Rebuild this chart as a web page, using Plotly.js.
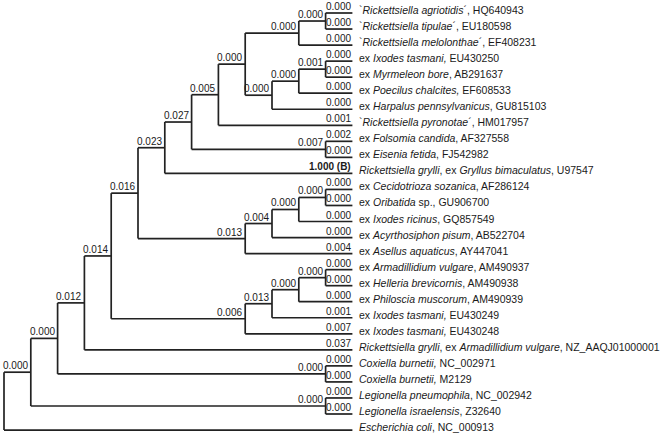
<!DOCTYPE html>
<html>
<head>
<meta charset="utf-8">
<script src="https://cdn.plot.ly/plotly-3.0.1.min.js"></script>
<style>
  html, body { margin: 0; padding: 0; background: #fff; }
  #plot { width: 661px; height: 439px; }
</style>
</head>
<body>
<div id="plot"></div>
<script>
// Leaf names, top to bottom (index = leaf number used in the tree below)
var leafNames = [
  "`<i>Rickettsiella agriotidis</i>´, HQ640943",
  "`<i>Rickettsiella tipulae</i>´, EU180598",
  "`<i>Rickettsiella melolonthae</i>´, EF408231",
  "ex <i>Ixodes tasmani,</i> EU430250",
  "ex <i>Myrmeleon bore</i>, AB291637",
  "ex <i>Poecilus chalcites,</i> EF608533",
  "ex <i>Harpalus pennsylvanicus</i>, GU815103",
  "`<i>Rickettsiella pyronotae</i>´, HM017957",
  "ex <i>Folsomia candida</i>, AF327558",
  "ex <i>Eisenia fetida</i>, FJ542982",
  "<i>Rickettsiella grylli</i>, ex <i>Gryllus bimaculatus</i>, U97547",
  "ex <i>Cecidotrioza sozanica</i>, AF286124",
  "ex <i>Oribatida</i> sp., GU906700",
  "ex <i>Ixodes ricinus</i>, GQ857549",
  "ex <i>Acyrthosiphon pisum</i>, AB522704",
  "ex <i>Asellus aquaticus</i>, AY447041",
  "ex <i>Armadillidium vulgare</i>, AM490937",
  "ex <i>Helleria brevicornis</i>, AM490938",
  "ex <i>Philoscia muscorum</i>, AM490939",
  "ex <i>Ixodes tasmani,</i> EU430249",
  "ex <i>Ixodes tasmani,</i> EU430248",
  "<i>Rickettsiella grylli</i>, ex <i>Armadillidium vulgare</i>, NZ_AAQJ01000001",
  "<i>Coxiella burnetii,</i> NC_002971",
  "<i>Coxiella burnetii,</i> M2129",
  "<i>Legionella pneumophila</i>, NC_002942",
  "<i>Legionella israelensis</i>, Z32640",
  "<i>Escherichia coli</i>, NC_000913"
];

// Topology with the branch values written on each branch
var newick = "((((((((((((0:0.000,1:0.000):0.000,2:0.000):0.000,(((3:0.000,4:0.000):0.001,5:0.000):0.000,6:0.000):0.000):0.000,7:0.001):0.005,(8:0.002,9:0.000):0.007):0.027,10:'1.000 (B)'):0.023,((((11:0.000,12:0.000):0.000,13:0.000):0.000,14:0.000):0.004,15:0.004):0.013):0.016,((((16:0.000,17:0.000):0.000,18:0.000):0.000,19:0.001):0.013,20:0.007):0.006):0.014,21:0.037):0.012,(22:0.000,23:0.000):0.000):0.000,(24:0.000,25:0.000):0.000):0.000,26)";

var boldLabels = ["1.000 (B)"];

var font = "Liberation Sans, Arial, sans-serif";
var lineColor = "#222";

function parseNewick(s) {
  var pos = 0;
  function readLabel() {
    if (s[pos] == "'") {
      var end = s.indexOf("'", pos + 1);
      var t = s.substring(pos + 1, end);
      pos = end + 1;
      return t;
    }
    var start = pos;
    while (pos < s.length && ",():".indexOf(s[pos]) < 0) pos++;
    return s.substring(start, pos);
  }
  function node() {
    var n = { children: [] };
    if (s[pos] == "(") {
      pos++;
      n.children.push(node());
      while (s[pos] == ",") { pos++; n.children.push(node()); }
      pos++; // ')'
    } else {
      n.leaf = parseInt(readLabel());
    }
    if (s[pos] == ":") { pos++; n.label = readLabel(); }
    return n;
  }
  return node();
}

var tree = parseNewick(newick);

// height = edges to deepest tip; x = maxDepth - height (tips aligned)
function setHeight(n) {
  if (n.children.length == 0) { n.h = 0; return 0; }
  var h = 0;
  n.children.forEach(function(c) { h = Math.max(h, setHeight(c)); });
  n.h = h + 1;
  return n.h;
}
var maxH = setHeight(tree);

function setPos(n) {
  n.x = maxH - n.h;
  if (n.children.length == 0) { n.y = n.leaf; return; }
  var sum = 0;
  n.children.forEach(function(c) { setPos(c); sum += c.y; });
  n.y = sum / n.children.length;
}
setPos(tree);

var lx = [], ly = [];
var annotations = [];

function walk(n) {
  if (n.children.length == 0) {
    annotations.push({
      x: n.x, y: n.y, text: leafNames[n.leaf], showarrow: false,
      xanchor: "left", yanchor: "middle", xshift: 5, yshift: 3,
      font: { family: font, size: 10.5, color: "#1a1a1a" }
    });
    return;
  }
  var first = n.children[0], last = n.children[n.children.length - 1];
  lx.push(n.x, n.x, null); ly.push(first.y, last.y, null);
  n.children.forEach(function(c) {
    lx.push(n.x, c.x, null); ly.push(c.y, c.y, null);
    if (c.label) {
      var bold = boldLabels.indexOf(c.label) >= 0;
      annotations.push({
        x: c.x, y: c.y, text: bold ? "<b>" + c.label + "</b>" : c.label,
        showarrow: false, xanchor: "right", yanchor: "bottom",
        xshift: c.children.length ? -1 : 1, yshift: -1,
        font: { family: font, size: 10, color: "#1a1a1a" }
      });
    }
    walk(c);
  });
}
walk(tree);

var traces = [{
  x: lx, y: ly, mode: "lines", type: "scatter",
  line: { color: lineColor, width: 1.7 },
  hoverinfo: "skip", showlegend: false
}];

// pixel mapping: x px = 4 + 26.8*level, y px = 13 + 16.04*row
var xs = 26.8, ys = 16.04;
var layout = {
  width: 661, height: 439,
  margin: { l: 0, r: 0, t: 0, b: 0 },
  paper_bgcolor: "#fff", plot_bgcolor: "#fff",
  showlegend: false,
  xaxis: { range: [-4 / xs, (661 - 4) / xs], visible: false, fixedrange: true },
  yaxis: { range: [(439 - 13) / ys, -13 / ys], visible: false, fixedrange: true },
  annotations: annotations
};

Plotly.newPlot("plot", traces, layout, { displayModeBar: false, staticPlot: true });
</script>
</body>
</html>
